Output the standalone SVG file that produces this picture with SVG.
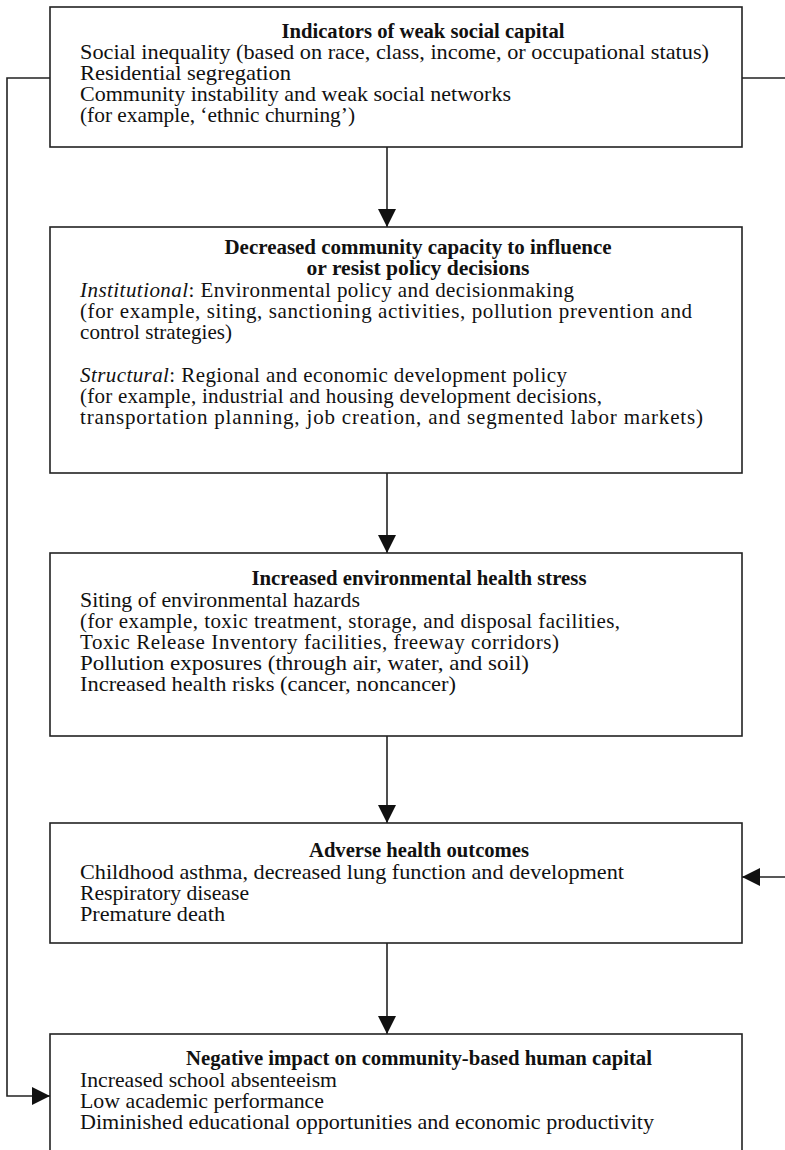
<svg xmlns="http://www.w3.org/2000/svg" width="785" height="1150" viewBox="0 0 785 1150">
<style>
.box{fill:#fff;stroke:#222;stroke-width:1.6}
.t{font-family:"Liberation Serif","Times New Roman",serif;font-size:20px;font-weight:bold;fill:#111;text-anchor:middle}
.b{font-family:"Liberation Serif","Times New Roman",serif;font-size:21px;fill:#111}
.c{fill:none;stroke:#222;stroke-width:1.6}
</style>
<defs>
<marker id="ah2" viewBox="0 0 20 20" refX="20" refY="10" markerWidth="18" markerHeight="20" markerUnits="userSpaceOnUse" orient="auto"><path d="M0,0 L20,10 L0,20 z" fill="#111"/></marker>
</defs>
<g id="connectors">
<path class="c" d="M387,147 L387,227" marker-end="url(#ah2)"/>
<path class="c" d="M387,473 L387,553" marker-end="url(#ah2)"/>
<path class="c" d="M387,736 L387,823" marker-end="url(#ah2)"/>
<path class="c" d="M387,943 L387,1034" marker-end="url(#ah2)"/>
<path class="c" d="M50,78 L7,78 L7,1096 L50,1096" marker-end="url(#ah2)"/>
<path class="c" d="M742,78 L786,78 L786,877 L742,877" marker-end="url(#ah2)"/>
</g>
<g id="n1">
<rect class="box" x="50" y="7" width="692" height="140"/>
<text class="t" x="423" y="38" textLength="283" lengthAdjust="spacingAndGlyphs">Indicators of weak social capital</text>
<text class="b" x="80" y="59" textLength="629" lengthAdjust="spacingAndGlyphs">Social inequality (based on race, class, income, or occupational status)</text>
<text class="b" x="80" y="80" textLength="211" lengthAdjust="spacingAndGlyphs">Residential segregation</text>
<text class="b" x="80" y="101" textLength="431" lengthAdjust="spacingAndGlyphs">Community instability and weak social networks</text>
<text class="b" x="80" y="122" textLength="275" lengthAdjust="spacingAndGlyphs">(for example, ‘ethnic churning’)</text>
</g>
<g id="n2">
<rect class="box" x="50" y="227" width="692" height="246"/>
<text class="t" x="418" y="254" textLength="387" lengthAdjust="spacingAndGlyphs">Decreased community capacity to influence</text>
<text class="t" x="418" y="275" textLength="223" lengthAdjust="spacingAndGlyphs">or resist policy decisions</text>
<text class="b" x="80" y="297" textLength="494"><tspan font-style="italic">Institutional</tspan>: Environmental policy and decisionmaking</text>
<text class="b" x="80" y="318" textLength="612">(for example, siting, sanctioning activities, pollution prevention and</text>
<text class="b" x="80" y="339" textLength="152">control strategies)</text>
<text class="b" x="80" y="382" textLength="487"><tspan font-style="italic">Structural</tspan>: Regional and economic development policy</text>
<text class="b" x="80" y="403" textLength="522">(for example, industrial and housing development decisions,</text>
<text class="b" x="80" y="424" textLength="623">transportation planning, job creation, and segmented labor markets)</text>
</g>
<g id="n3">
<rect class="box" x="50" y="553" width="692" height="183"/>
<text class="t" x="419" y="585" textLength="335" lengthAdjust="spacingAndGlyphs">Increased environmental health stress</text>
<text class="b" x="80" y="607" textLength="280" lengthAdjust="spacingAndGlyphs">Siting of environmental hazards</text>
<text class="b" x="80" y="628" textLength="540">(for example, toxic treatment, storage, and disposal facilities,</text>
<text class="b" x="80" y="649" textLength="479">Toxic Release Inventory facilities, freeway corridors)</text>
<text class="b" x="80" y="670" textLength="449" lengthAdjust="spacingAndGlyphs">Pollution exposures (through air, water, and soil)</text>
<text class="b" x="80" y="691" textLength="376" lengthAdjust="spacingAndGlyphs">Increased health risks (cancer, noncancer)</text>
</g>
<g id="n4">
<rect class="box" x="50" y="823" width="692" height="120"/>
<text class="t" x="419" y="857" textLength="220" lengthAdjust="spacingAndGlyphs">Adverse health outcomes</text>
<text class="b" x="80" y="879" textLength="544" lengthAdjust="spacingAndGlyphs">Childhood asthma, decreased lung function and development</text>
<text class="b" x="80" y="900" textLength="169" lengthAdjust="spacingAndGlyphs">Respiratory disease</text>
<text class="b" x="80" y="921" textLength="145" lengthAdjust="spacingAndGlyphs">Premature death</text>
</g>
<g id="n5">
<rect class="box" x="50" y="1034" width="692" height="130"/>
<text class="t" x="419" y="1065" textLength="466" lengthAdjust="spacingAndGlyphs">Negative impact on community-based human capital</text>
<text class="b" x="80" y="1087" textLength="257" lengthAdjust="spacingAndGlyphs">Increased school absenteeism</text>
<text class="b" x="80" y="1108" textLength="244" lengthAdjust="spacingAndGlyphs">Low academic performance</text>
<text class="b" x="80" y="1129" textLength="574" lengthAdjust="spacingAndGlyphs">Diminished educational opportunities and economic productivity</text>
</g>
</svg>
